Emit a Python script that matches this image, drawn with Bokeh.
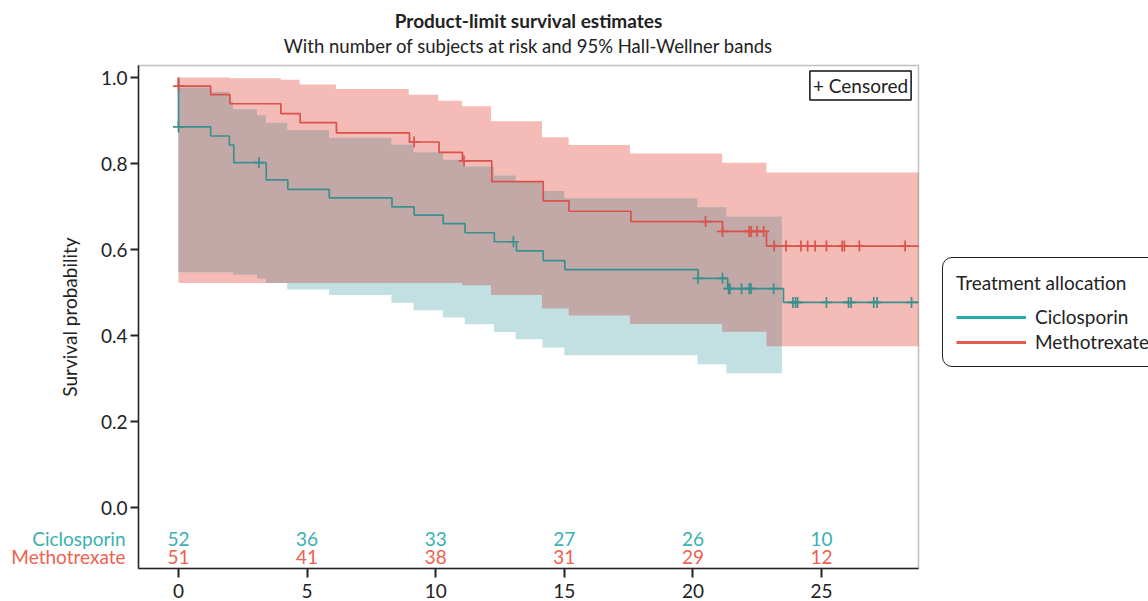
import numpy as np
from bokeh.plotting import figure
from bokeh.models import (Label, Legend, LegendItem, FixedTicker, PrintfTickFormatter, BoxAnnotation)
from bokeh.core.properties import value
from bokeh.embed import file_html
from bokeh.resources import INLINE

# ---------------- data ----------------
groups = ["Ciclosporin", "Methotrexate"]

cic_event_times = [0, 1.25, 1.98, 2.15, 3.41, 4.25, 5.86, 8.30, 9.16, 10.29, 11.14, 12.28, 13.14, 14.18, 15.02, 20.20, 21.35, 23.52]
cic_surv = [0.885, 0.864, 0.843, 0.802, 0.762, 0.740, 0.720, 0.699, 0.680, 0.660, 0.639, 0.618, 0.597, 0.574, 0.553, 0.533, 0.509, 0.477]
cic_censor_times = [0, 3.13, 13.02, 20.20, 21.15, 21.39, 21.44, 21.89, 22.19, 22.26, 23.14, 23.89, 23.99, 24.07, 25.19, 26.05, 26.15, 27.03, 27.16, 28.50]

mtx_event_times = [0, 1.25, 2.00, 3.98, 4.73, 6.14, 8.98, 10.13, 11.04, 12.18, 14.18, 15.18, 17.59, 21.15, 22.86]
mtx_surv = [0.980, 0.960, 0.939, 0.916, 0.895, 0.871, 0.850, 0.826, 0.806, 0.758, 0.713, 0.689, 0.665, 0.642, 0.608]
mtx_censor_times = [0, 9.16, 11.10, 20.49, 21.15, 22.19, 22.27, 22.49, 22.75, 23.16, 23.62, 24.20, 24.46, 24.75, 25.19, 25.80, 25.89, 26.47, 28.25]

cic_band_times = [0, 1.25, 1.98, 2.12, 3.05, 3.40, 4.23, 5.85, 8.28, 9.14, 10.28, 11.13, 12.26, 13.11, 14.15, 15.00, 20.18, 21.30]
cic_band_lower = [0.547, 0.547, 0.547, 0.541, 0.532, 0.522, 0.507, 0.494, 0.476, 0.459, 0.442, 0.426, 0.408, 0.391, 0.372, 0.354, 0.333, 0.312]
cic_band_upper = [0.977, 0.967, 0.945, 0.926, 0.912, 0.895, 0.878, 0.860, 0.844, 0.826, 0.809, 0.793, 0.772, 0.759, 0.736, 0.719, 0.698, 0.677]
cic_band_end = 23.46

mtx_band_times = [0, 2.00, 3.97, 4.71, 6.12, 8.95, 10.10, 11.02, 12.15, 14.13, 15.17, 17.55, 21.14, 22.86]
mtx_band_lower = [0.522, 0.522, 0.522, 0.522, 0.522, 0.522, 0.522, 0.517, 0.494, 0.463, 0.4465, 0.427, 0.4085, 0.375]
mtx_band_upper = [1.0, 0.998, 0.995, 0.984, 0.973, 0.960, 0.946, 0.933, 0.898, 0.861, 0.843, 0.823, 0.802, 0.779]

risk_times = [0, 5, 10, 15, 20, 25]
cic_at_risk = [52, 36, 33, 27, 26, 10]
mtx_at_risk = [51, 41, 38, 31, 29, 12]

y_ticks = [0.0, 0.2, 0.4, 0.6, 0.8, 1.0]
x_ticks = [0, 5, 10, 15, 20, 25]

# ---------------- styles / layout ----------------
FONT = "Lato"
FS = "19px"
TEAL_LINE = "#3A8F8F"
RED_LINE = "#D9534A"
TEAL_LEG = "#2AAAAA"
RED_LEG = "#E55B4B"
TEAL_TXT = "#3BB0B0"
RED_TXT = "#F0604F"
PINK_FILL = "#F5BBB6"
TEAL_FILL = "#C2DFE1"
OVER_FILL = "#C2A8A7"
TXT = "#222222"

W, H = 1148, 601
X0, X1 = -1.555, 28.77          # data limits of the drawn box
BOX_L, BOX_R = 138, 918         # box edges in page pixels
BOX_T, BOX_B = 65, 568
Y_ZERO_PX, Y_ONE_PX = 507, 77
SX = (BOX_R - BOX_L) / (X1 - X0)
SY = (Y_ZERO_PX - Y_ONE_PX) / 1.0
x_lo = X0 - BOX_L / SX
x_hi = X1 + (W - BOX_R) / SX
y_lo = -(H - Y_ZERO_PX) / SY
y_hi = Y_ZERO_PX / SY
Y1 = (Y_ZERO_PX - BOX_T) / SY
YB = (Y_ZERO_PX - BOX_B) / SY
followup_end = X1


def px2x(px):
    return X0 + (px - BOX_L) / SX


def px2y(py):
    return (Y_ZERO_PX - py) / SY


def step_xy(times, surv, end):
    xs = [0.0] + list(times) + [end]
    ys = [1.0] + list(surv) + [surv[-1]]
    return xs, ys


def surv_at(times, surv, t):
    idx = np.searchsorted(np.array(times), t, side="right") - 1
    return 1.0 if idx < 0 else surv[idx]


def band_at(times, vals, t):
    idx = np.searchsorted(np.array(times), t, side="right") - 1
    return vals[max(idx, 0)]


p = figure(width=W, height=H, x_range=(x_lo, x_hi), y_range=(y_lo, y_hi),
           output_backend="svg", toolbar_location=None, title=None,
           min_border_left=0, min_border_right=0, min_border_top=0, min_border_bottom=0)

p.xgrid.visible = False
p.ygrid.visible = False
p.outline_line_color = None
p.background_fill_color = "white"
p.border_fill_color = "white"

# bands
mx = mtx_band_times + [followup_end]
p.varea_step(x=mx, y1=mtx_band_lower + [mtx_band_lower[-1]], y2=mtx_band_upper + [mtx_band_upper[-1]],
             step_mode="after", fill_color=PINK_FILL, fill_alpha=1.0)
cx = cic_band_times + [cic_band_end]
p.varea_step(x=cx, y1=cic_band_lower + [cic_band_lower[-1]], y2=cic_band_upper + [cic_band_upper[-1]],
             step_mode="after", fill_color=TEAL_FILL, fill_alpha=1.0)

grid = sorted(set([t for t in cic_band_times + mtx_band_times if t < cic_band_end]))
ov_lo, ov_hi = [], []
for t in grid:
    lo = max(band_at(cic_band_times, cic_band_lower, t), band_at(mtx_band_times, mtx_band_lower, t))
    hi = min(band_at(cic_band_times, cic_band_upper, t), band_at(mtx_band_times, mtx_band_upper, t))
    if hi < lo:
        hi = lo
    ov_lo.append(lo)
    ov_hi.append(hi)
p.varea_step(x=grid + [cic_band_end], y1=ov_lo + [ov_lo[-1]], y2=ov_hi + [ov_hi[-1]],
             step_mode="after", fill_color=OVER_FILL, fill_alpha=1.0)

# survival curves
xs, ys = step_xy(cic_event_times, cic_surv, followup_end)
p.step(xs, ys, mode="after", line_color=TEAL_LINE, line_width=1.7)
xs, ys = step_xy(mtx_event_times, mtx_surv, followup_end)
p.step(xs, ys, mode="after", line_color=RED_LINE, line_width=1.7)

# censor marks
p.scatter(cic_censor_times, [surv_at(cic_event_times, cic_surv, t) for t in cic_censor_times],
          marker="cross", size=11, line_color=TEAL_LINE, line_width=1.7)
p.scatter(mtx_censor_times, [surv_at(mtx_event_times, mtx_surv, t) for t in mtx_censor_times],
          marker="cross", size=11, line_color=RED_LINE, line_width=1.7)

# plot box
p.add_layout(BoxAnnotation(left=X0, right=X1, bottom=YB, top=Y1, fill_alpha=0,
                           line_color="#333333", line_width=1.5))

# risk table
row_y = [px2y(538), px2y(556)]
p.text(risk_times, [row_y[0]] * len(risk_times), text=[str(v) for v in cic_at_risk],
       text_align="center", text_baseline="middle", text_font=value(FONT),
       text_font_size=FS, text_color=TEAL_TXT)
p.text(risk_times, [row_y[1]] * len(risk_times), text=[str(v) for v in mtx_at_risk],
       text_align="center", text_baseline="middle", text_font=value(FONT),
       text_font_size=FS, text_color=RED_TXT)
for g, yy, c in zip(groups, row_y, [TEAL_TXT, RED_TXT]):
    p.add_layout(Label(x=px2x(125), y=yy, text=g, text_align="right", text_baseline="middle",
                       text_font=FONT, text_font_size=FS, text_color=c))

# titles
p.add_layout(Label(x=(X0 + X1) / 2, y=px2y(20), text="Product-limit survival estimates",
                   text_align="center", text_baseline="middle", text_font=FONT,
                   text_font_size="19px", text_font_style="bold", text_color=TXT))
p.add_layout(Label(x=(X0 + X1) / 2, y=px2y(45),
                   text="With number of subjects at risk and 95% Hall-Wellner bands",
                   text_align="center", text_baseline="middle", text_font=FONT,
                   text_font_size="18.5px", text_font_style="normal", text_color=TXT))

# censored box
cl = Label(x=px2x(860), y=px2y(85), text="+ Censored", text_align="center", text_baseline="middle",
           text_font=FONT, text_font_size=FS, text_color=TXT,
           border_line_color="#111111", border_line_width=1.5, background_fill_color="white")
try:
    cl.padding = 3
except Exception:
    pass
p.add_layout(cl)

# axes
for ax in (p.xaxis[0], p.yaxis[0]):
    ax.axis_line_color = "#222222"
    ax.axis_line_width = 1.5
    ax.major_tick_line_color = "#222222"
    ax.major_tick_line_width = 2
    ax.major_tick_in = 0
    ax.minor_tick_line_color = None
    ax.major_label_text_font = FONT
    ax.major_label_text_font_size = FS
    ax.major_label_text_color = TXT
p.yaxis.major_tick_out = 8
p.yaxis.major_label_standoff = 3
p.xaxis.major_tick_out = 9
p.xaxis.major_label_standoff = 6
p.yaxis.ticker = FixedTicker(ticks=y_ticks)
p.yaxis.formatter = PrintfTickFormatter(format="%.1f")
p.yaxis.fixed_location = X0
p.yaxis.bounds = (YB, Y1)
p.xaxis.ticker = FixedTicker(ticks=x_ticks)
p.xaxis.fixed_location = YB
p.xaxis.bounds = (X0, X1)
p.yaxis.axis_label = "Survival probability"
p.yaxis.axis_label_text_font = FONT
p.yaxis.axis_label_text_font_size = FS
p.yaxis.axis_label_text_font_style = "normal"
p.yaxis.axis_label_text_color = TXT
p.yaxis.axis_label_standoff = 17

# legend
r1 = p.line(np.array([np.nan]), np.array([np.nan]), line_color=TEAL_LEG, line_width=3)
r2 = p.line(np.array([np.nan]), np.array([np.nan]), line_color=RED_LEG, line_width=3)
leg = Legend(items=[LegendItem(label=groups[0], renderers=[r1]), LegendItem(label=groups[1], renderers=[r2])],
             location=(942, H - 367), title="Treatment allocation", margin=0,
             title_text_font=FONT, title_text_font_size=FS, title_text_font_style="normal",
             title_text_color=TXT, label_text_font=FONT, label_text_font_size=FS,
             label_text_color=TXT, glyph_width=70, glyph_height=20, label_height=20,
             label_standoff=9, spacing=2, padding=13, title_standoff=11,
             border_line_color="#222222", border_line_width=1.5, border_line_alpha=1.0,
             background_fill_alpha=1.0)
try:
    leg.border_radius = 10
except Exception:
    pass
p.add_layout(leg)

open("out.html", "w").write(file_html(p, INLINE))
